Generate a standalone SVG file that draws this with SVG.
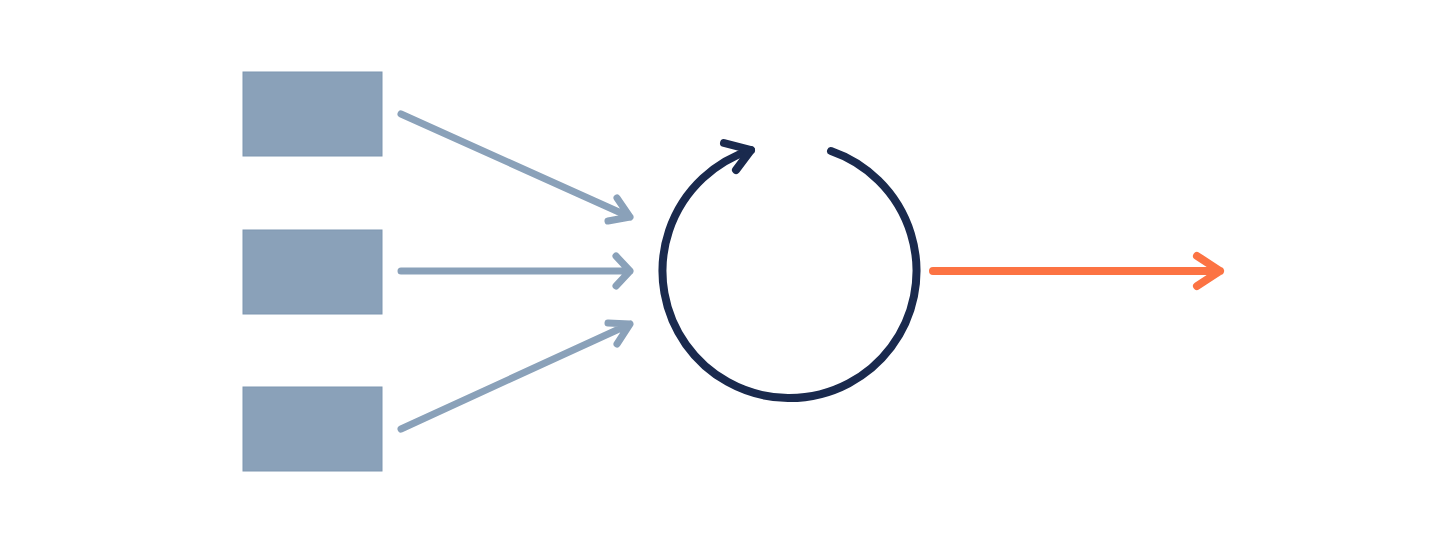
<svg xmlns="http://www.w3.org/2000/svg" width="1456" height="550" viewBox="0 0 1456 550">
<style>
.box{fill:#8aa1b9;stroke:#7f97b1;stroke-width:1}
.g{fill:none;stroke:#8aa1b9;stroke-width:7;stroke-linecap:round;stroke-linejoin:round}
.c{fill:none;stroke:#1a2a4e;stroke-width:8;stroke-linecap:round;stroke-linejoin:round}
.o{fill:none;stroke:#fc7343;stroke-width:8;stroke-linecap:round;stroke-linejoin:round}
</style>
<rect width="1456" height="550" fill="#ffffff"/>
<g id="box1"><rect class="box" x="243" y="72" width="139" height="84"/></g>
<g id="box2"><rect class="box" x="243" y="230" width="139" height="84"/></g>
<g id="box3"><rect class="box" x="243" y="387" width="139" height="84"/></g>
<g id="cycle">
<path class="c" d="M831,151 A127,127 0 1 1 751,150"/>
<path class="c" d="M724,143 L751,150 L736,170"/>
</g>
<g id="connectors">
<path class="g" d="M401,114 L630,217 M617,198 L630,217 L608,221"/>
<path class="g" d="M401,271 L630,271 M616,256 L630,271 L616,286"/>
<path class="g" d="M401,429 L630,324 M608,323 L630,324 L617,344"/>
<path class="o" d="M933,271 L1220,271 M1197,256 L1220,271 L1197,286"/>
</g>
</svg>
